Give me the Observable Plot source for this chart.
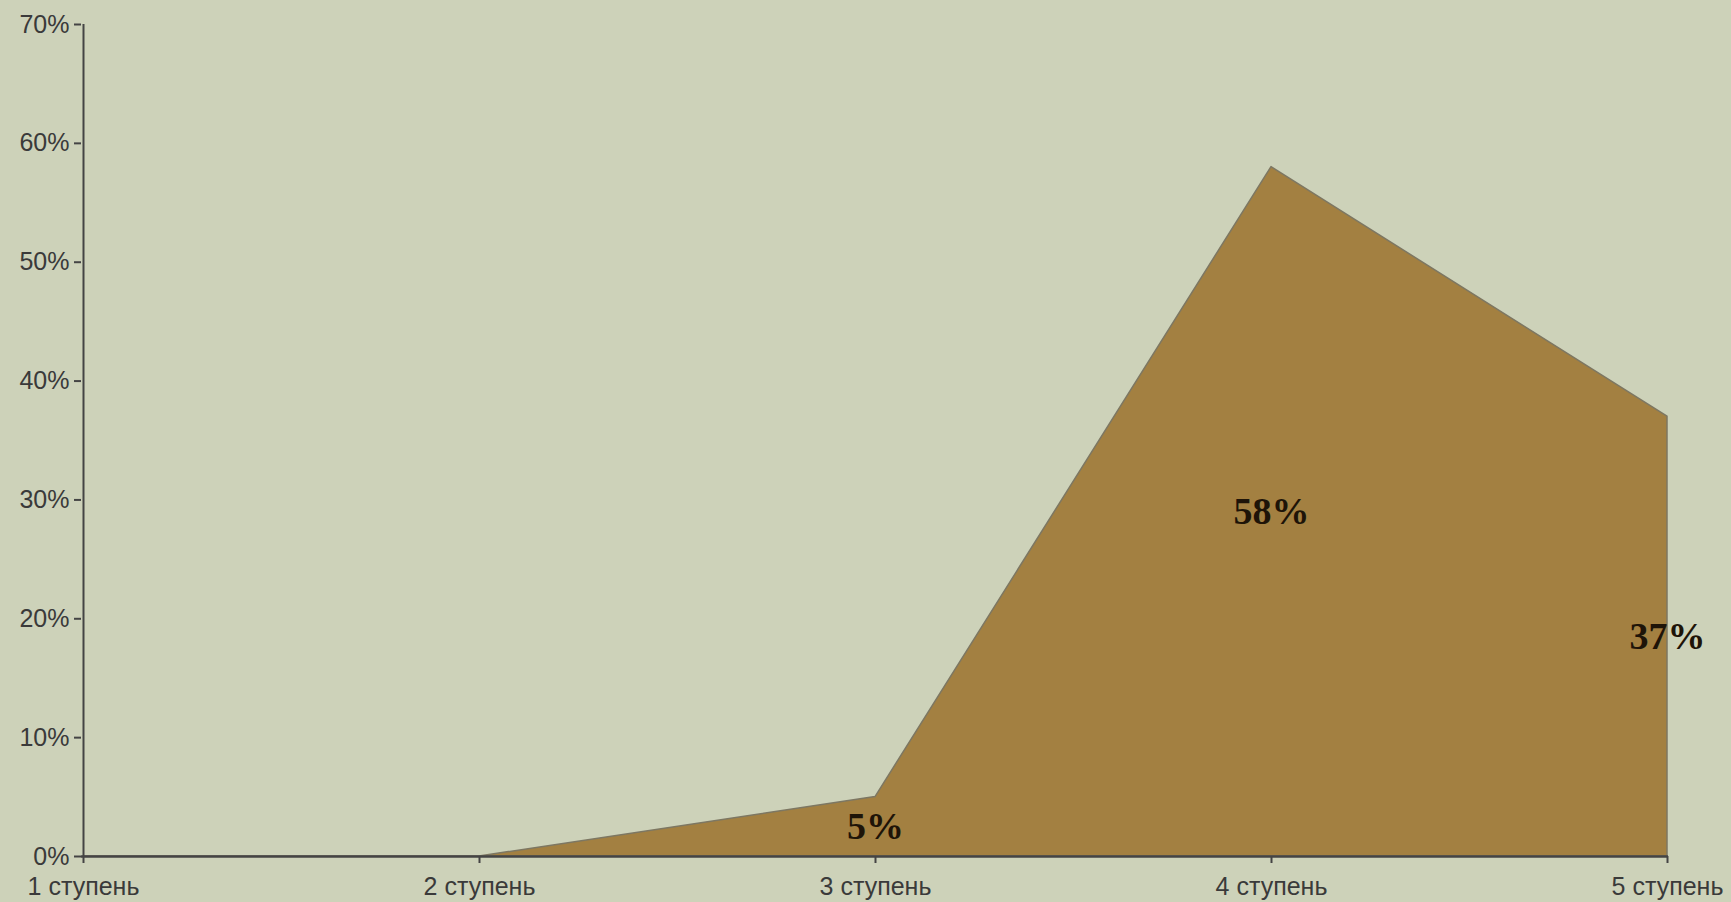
<!DOCTYPE html>
<html>
<head>
<meta charset="utf-8">
<script src="https://cdn.jsdelivr.net/npm/d3@7"></script>
<script src="https://cdn.jsdelivr.net/npm/@observablehq/plot@0.6"></script>
<style>
  html, body { margin: 0; padding: 0; background: #cdd2b9; overflow: hidden; }
  #chart svg { display: block; }
</style>
</head>
<body>
<div id="chart"></div>
<script>
const categories = ["1 ступень", "2 ступень", "3 ступень", "4 ступень", "5 ступень"];
const values = [0, 0, 5, 58, 37];
const yTicks = [0, 10, 20, 30, 40, 50, 60, 70];

const data = categories.map((c, i) => ({ cat: c, v: values[i] }));
const labelled = data.filter(d => d.v > 0);

const chart = Plot.plot({
  width: 1731,
  height: 902,
  marginLeft: 81,
  marginRight: 63,
  marginTop: 24,
  marginBottom: 46,
  style: { background: "#cdd2b9", fontFamily: "'Liberation Sans', Arial, sans-serif", fontSize: "25px", color: "#3a3a3a" },
  x: { type: "point", domain: categories, padding: 0 },
  y: { domain: [0, 70] },
  marks: [
    Plot.areaY(data, { x: "cat", y: "v", fill: "#a38041", stroke: "#7d7762", strokeWidth: 1.5 }),
    Plot.ruleX([categories[0]], { y1: 0, y2: 70, stroke: "#444", strokeWidth: 2 }),
    Plot.ruleY([0], { stroke: "#444", strokeWidth: 2.5 }),
    Plot.axisY({ ticks: yTicks, tickFormat: d => d + "%", tickSize: 7, tickPadding: 5, stroke: "#444", strokeWidth: 2, fill: "#3a3a3a", fontSize: 25, label: null }),
    Plot.axisX({ tickSize: 7, tickPadding: 14, stroke: "#444", strokeWidth: 2, fill: "#3a3a3a", fontSize: 25, label: null }),
    Plot.text(labelled, { x: "cat", y: d => d.v / 2, text: d => d.v + "%", fontFamily: "'Liberation Serif', 'Times New Roman', serif", fontWeight: "bold", fontSize: 38, fill: "#1e1408" })
  ]
});
document.getElementById("chart").appendChild(chart);
</script>
</body>
</html>
